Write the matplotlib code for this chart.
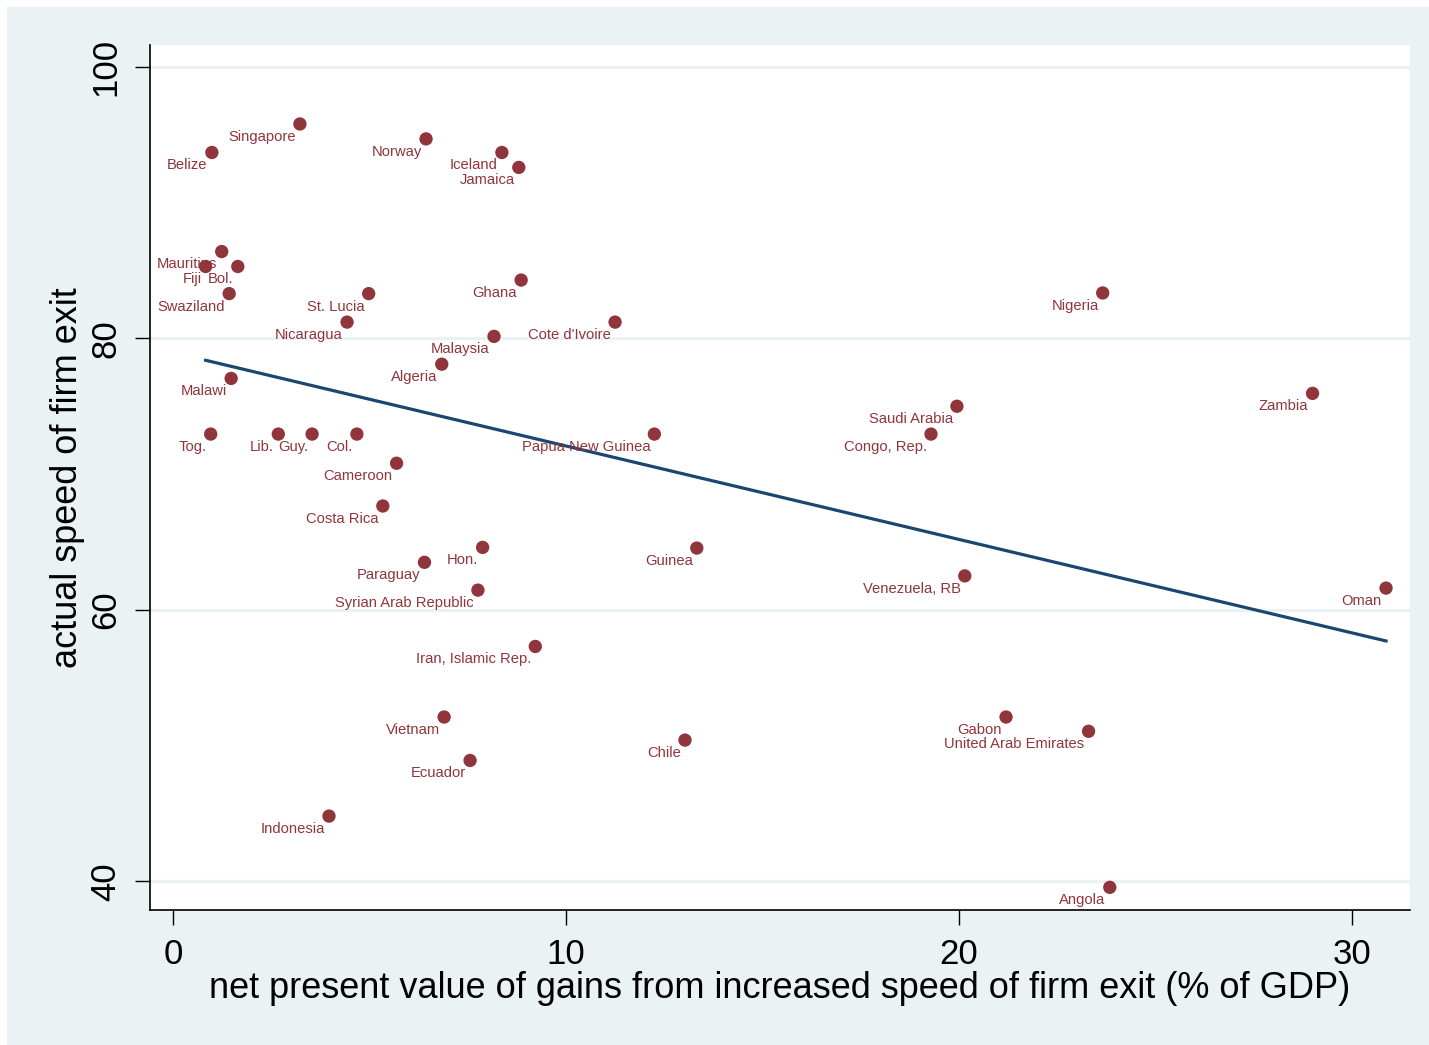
import numpy as np
import matplotlib.pyplot as plt
from matplotlib.patches import Rectangle

plt.rcParams['font.family'] = ['Liberation Sans', 'DejaVu Sans']

# data
countries = ["Singapore", "Belize", "Norway", "Iceland", "Jamaica",
             "Mauritius", "Fiji", "Bol.", "Swaziland", "St. Lucia",
             "Nicaragua", "Ghana", "Malaysia", "Algeria", "Malawi",
             "Cote d'Ivoire", "Tog.", "Lib.", "Guy.", "Col.",
             "Cameroon", "Costa Rica", "Hon.", "Paraguay", "Syrian Arab Republic",
             "Iran, Islamic Rep.", "Papua New Guinea", "Guinea", "Vietnam", "Ecuador",
             "Indonesia", "Chile", "Saudi Arabia", "Congo, Rep.", "Venezuela, RB",
             "Gabon", "United Arab Emirates", "Angola", "Nigeria", "Zambia",
             "Oman"]
npv_gain = [3.23, 0.99, 6.44, 8.37, 8.80,
            1.24, 0.83, 1.65, 1.43, 4.98,
            4.43, 8.86, 8.17, 6.84, 1.48,
            11.25, 0.96, 2.68, 3.54, 4.68,
            5.69, 5.34, 7.88, 6.40, 7.76,
            9.22, 12.25, 13.33, 6.90, 7.56,
            3.97, 13.03, 19.95, 19.29, 20.15,
            21.20, 23.30, 23.84, 23.66, 29.00,
            30.87]
exit_speed = [95.8, 93.7, 94.7, 93.7, 92.6,
              86.4, 85.3, 85.3, 83.3, 83.3,
              81.2, 84.3, 80.15, 78.1, 77.05,
              81.2, 72.95, 72.95, 72.95, 72.95,
              70.8, 67.65, 64.6, 63.5, 61.45,
              57.3, 72.95, 64.55, 52.1, 48.9,
              44.8, 50.4, 75.0, 72.95, 62.5,
              52.1, 51.05, 39.55, 83.35, 75.95,
              61.6]

x = np.array(npv_gain)
y = np.array(exit_speed)

maroon = "#90353B"
navy = "#1A476F"
panel = "#EAF2F3"

fig = plt.figure(figsize=(14.29, 10.45), dpi=100)
fig.patch.set_facecolor("white")
fig.patches.append(Rectangle((7 / 1429, 0), 1, 1 - 7 / 1045, transform=fig.transFigure,
                             facecolor=panel, edgecolor="none", zorder=-10))

ax = fig.add_axes([150 / 1429, 1 - 910 / 1045, 1260 / 1429, 865 / 1045])
ax.set_zorder(5)
ax.set_facecolor("white")

# grid lines
for gy in [40, 60, 80, 100]:
    ax.axhline(gy, color=panel, lw=2.3, zorder=1)

ax.scatter(x, y, s=92, color=maroon, edgecolors="none", zorder=3)
for name, xi, yi in zip(countries, x, y):
    ax.annotate(name, (xi, yi), xytext=(-3, -9.3), textcoords="offset points",
                ha="right", va="center", fontsize=10.6, color=maroon, zorder=4)

# linear fit
b, a = np.polyfit(x, y, 1)
xf = np.array([x.min(), x.max()])
ax.plot(xf, a + b * xf, color=navy, lw=2.3, zorder=2)

ax.set_xlim(-0.585, 31.48)
ax.set_ylim(37.88, 101.62)
ax.set_xticks([0, 10, 20, 30])
ax.set_yticks([40, 60, 80, 100])
ax.tick_params(axis="both", length=11, width=1, labelsize=25, pad=9)
for lab in ax.get_yticklabels():
    lab.set_rotation(90)
    lab.set_va("center")

ax.spines["top"].set_visible(False)
ax.spines["right"].set_visible(False)
ax.spines["left"].set_linewidth(1.2)
ax.spines["bottom"].set_linewidth(1.2)

ax.set_xlabel("net present value of gains from increased speed of firm exit (% of GDP)",
              fontsize=26, labelpad=0)
ax.set_ylabel("actual speed of firm exit", fontsize=26, labelpad=3)

plt.savefig("out.png", dpi=100, facecolor=fig.get_facecolor())
